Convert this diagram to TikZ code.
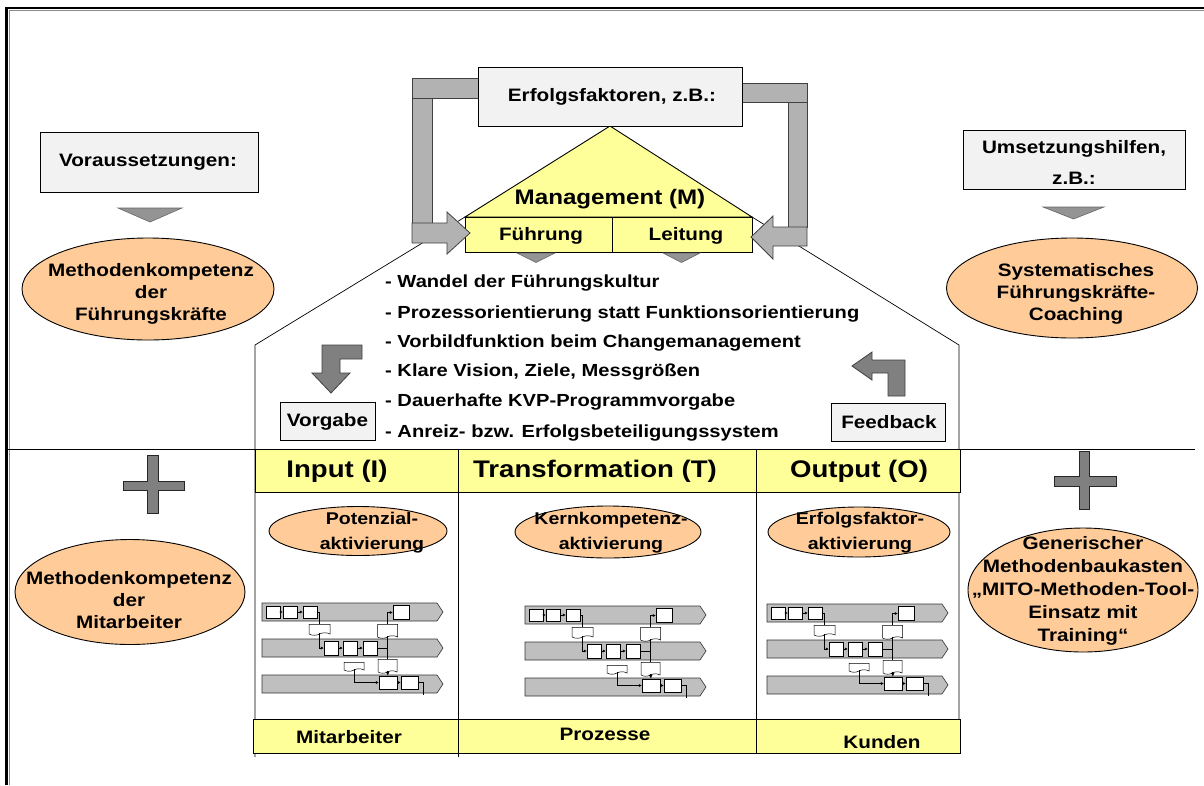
\documentclass[tikz,border=0pt]{standalone}
\usepackage{fontspec}
\setmainfont{Liberation Sans}[FakeStretch=1.15]
\usetikzlibrary{shapes.geometric,shapes.symbols,arrows.meta}

\definecolor{peach}{HTML}{FFCC99}
\definecolor{paleyellow}{HTML}{FFFF99}
\definecolor{boxgray}{HTML}{F2F2F2}
\definecolor{loopgray}{HTML}{B2B2B2}
\definecolor{arrowgray}{HTML}{808080}
\definecolor{lanegray}{HTML}{BFBFBF}

\tikzset{
  lbl/.style={font=\bfseries\fontsize{18}{22}\selectfont, inner sep=0, align=center},
  bullet/.style={font=\bfseries\fontsize{17.5}{21}\selectfont, inner sep=0, anchor=base west},
  graybox/.style={draw=black, fill=boxgray, line width=0.9pt, inner sep=0},
  ycell/.style={draw=black, fill=paleyellow, line width=0.9pt, inner sep=0},
  oval/.style={ellipse, draw=black, fill=peach, line width=0.9pt, inner sep=0},
  loopbar/.style={draw=black!75, fill=loopgray, line width=0.8pt},
  darkarrow/.style={draw=black!75, fill=arrowgray, line width=0.8pt},
  pointer/.style={draw=black!60, fill=black!42, line width=0.6pt},
  plusbar/.style={draw=black!85, fill=arrowgray, line width=0.9pt},
  wall/.style={draw=black, line width=0.7pt},
  lane/.style={draw=black!80, fill=lanegray, line width=0.6pt},
  pbox/.style={draw=black, fill=white, line width=0.5pt, inner sep=0,
    minimum width=14pt, minimum height=12pt},
  pdoc/.style={tape, tape bend top=none, tape bend height=2.5pt, draw=black,
    fill=white, line width=0.5pt, inner sep=0},
  flow/.style={draw=black, line width=0.5pt},
  flowto/.style={flow, -{Latex[length=3pt,width=3pt]}},
}

% small swimlane process map, #1 = top left corner, #2 = name prefix
\newcommand\procmap[2]{%
\begin{scope}[shift={#1}, name prefix=#2-]
  \foreach \dy in {0,36,72}
    \draw[lane] (0,\dy) -- (175,\dy) -- (181,\dy+9) -- (175,\dy+18) -- (0,\dy+18) -- cycle;
  \node[pbox] (a1) at (11,9) {};
  \node[pbox] (a2) at (28,9) {};
  \node[pbox] (a3) at (48,9) {};
  \node[pbox, minimum width=16pt, minimum height=14pt] (a4) at (139,9.5) {};
  \node[pdoc, minimum width=21pt, minimum height=11pt] (d1) at (57.5,25.5) {};
  \node[pdoc, minimum width=20pt, minimum height=14pt] (d2) at (125.5,27) {};
  \node[pbox, minimum height=14pt] (b1) at (69,45) {};
  \node[pbox, minimum height=14pt] (b2) at (88,45) {};
  \node[pbox, minimum height=14pt] (b3) at (108,45) {};
  \node[pdoc, minimum width=20pt, minimum height=9pt] (d3) at (92,62.5) {};
  \node[pdoc, minimum width=19pt, minimum height=14pt] (d4) at (125.5,62) {};
  \node[pbox, minimum width=18pt, minimum height=13pt] (c1) at (126,79.5) {};
  \node[pbox, minimum width=17pt, minimum height=13pt] (c2) at (147.5,79.5) {};
  \coordinate (cend) at (161,92);
  \draw[flowto] (a1) -- (a2);
  \draw[flowto] (a2) -- (a3);
  \draw[flowto] (b1) -- (b2);
  \draw[flowto] (b2) -- (b3);
  \draw[flowto] (c1) -- (c2);
  \draw[flow] (a3.east) -| (d1.north);
  \draw[flowto] (d1.south) |- (b1.west);
  \draw[flow] (b3.east) -| (d2.south);
  \draw[flowto] (d2.north) |- (a4.west);
  \draw[flow] (d2.south) -- (d4.north);
  \draw[flow, line width=1.1pt, -{Latex[length=4pt,width=4pt]}] (d4.south) -- (c1.north);
  \draw[flowto] (d3.south) |- (c1.west);
  \draw[flow] (c2.east) -| (cend);
\end{scope}}

\begin{document}
\begin{tikzpicture}[x=1pt,y=-1pt]
\useasboundingbox (0,0) rectangle (1204,785);
\fill[white] (0,0) rectangle (1204,785);

% outer frame and horizontal divider
\draw[black!45, line width=1.6pt] (9.5,785) -- (9.5,10.5) -- (1204,10.5);
\draw[black, line width=2.6pt] (6.5,785) -- (6.5,8) -- (1204,8);
\draw[black, line width=0.8pt] (8,449) -- (1195,449);

% house outline
\draw[wall] (465,217) -- (255,345) -- (255,757);
\draw[wall] (752,217) -- (959,345) -- (959,753);
\draw[wall] (458.5,449) -- (458.5,757);
\draw[wall] (756.5,449) -- (756.5,753);

% management roof
\draw[draw=black, fill=paleyellow, line width=0.9pt] (610,126) -- (752,217) -- (465,217) -- cycle;
\node[lbl, font=\bfseries\fontsize{21}{24}\selectfont] (mgmt) at (610,199) {Management (M)};
\node[ycell, minimum width=147pt, minimum height=35pt] (fu) at (538.5,234.5) {};
\node[ycell, minimum width=140pt, minimum height=35pt] (le) at (682,234.5) {};
\node[lbl] (fut) at (541,236) {Führung};
\node[lbl] (let) at (686,236) {Leitung};
\draw[pointer] (517,253) -- (555,253) -- (536,262.5) -- cycle;
\draw[pointer] (663,253) -- (700,253) -- (681.5,262.5) -- cycle;

% feedback loops from the success factors into the management box
\draw[loopbar] (412,78) rectangle (478,98);
\draw[loopbar] (412,98) rectangle (432,223);
\draw[loopbar] (412,223) -- (447,223) -- (447,212) -- (470,233) -- (447,254) -- (447,243) -- (412,243) -- cycle;
\draw[loopbar] (742,83) rectangle (807,102);
\draw[loopbar] (788,102) rectangle (807,227);
\draw[loopbar] (807,227) -- (773,227) -- (773,216) -- (751,237) -- (773,259) -- (773,246) -- (807,246) -- cycle;

\node[graybox, minimum width=264pt, minimum height=59pt] (ef) at (610,96.5) {};
\node[lbl] (eft) at (612,97) {Erfolgsfaktoren, z.B.:};

% success factor list
\node[bullet] (f1) at (385,287) {- Wandel der Führungskultur};
\node[bullet] (f2) at (385,318) {- Prozessorientierung statt Funktionsorientierung};
\node[bullet] (f3) at (385,347) {- Vorbildfunktion beim Changemanagement};
\node[bullet] (f4) at (385,376) {- Klare Vision, Ziele, Messgrößen};
\node[bullet] (f5) at (385,406) {- Dauerhafte KVP-Programmvorgabe};
\node[bullet] (f6) at (385,437) {- Anreiz- bzw. Erfolgsbeteiligungssystem};

% Vorgabe / Feedback
\draw[darkarrow] (362,345) -- (322,345) -- (322,373) -- (312,373) -- (331,393) -- (350,373) -- (340,373) -- (340,359) -- (362,359) -- cycle;
\draw[darkarrow] (905,396) -- (905,360) -- (872,360) -- (872,352) -- (852,366) -- (872,380) -- (872,373) -- (888,373) -- (888,396) -- cycle;
\node[graybox, minimum width=95pt, minimum height=38pt] (vg) at (327.5,421.5) {};
\node[lbl] (vgt) at (327.5,422) {Vorgabe};
\node[graybox, minimum width=114pt, minimum height=38pt] (fb) at (888.5,422) {};
\node[lbl] (fbt) at (889,422.5) {Feedback};

% left side: prerequisites
\node[graybox, minimum width=218pt, minimum height=60pt] (vs) at (149,162) {};
\node[lbl] (vst) at (148,162) {Voraussetzungen:};
\draw[pointer] (118,208) -- (182,208) -- (150,222) -- cycle;
\node[oval, minimum width=252pt, minimum height=102pt] (mf) at (148,289) {};
\node[lbl] (mft) at (151,294) {Methodenkompetenz\\der\\Führungskräfte};

% right side: implementation aids
\node[graybox, minimum width=222pt, minimum height=59pt] (uh) at (1074,159.5) {};
\node[lbl, font=\bfseries\fontsize{18}{31}\selectfont] (uht) at (1074,162) {Umsetzungshilfen,\\z.B.:};
\draw[pointer] (1043,207) -- (1104,207) -- (1073.5,219) -- cycle;
\node[oval, minimum width=251pt, minimum height=100pt] (sc) at (1072,288) {};
\node[lbl] (sct) at (1076,294) {Systematisches\\Führungskräfte-\\Coaching};

% plus signs
\draw[plusbar] (147,455) -- (158,455) -- (158,481) -- (184,481) -- (184,490) -- (158,490) -- (158,513) -- (147,513) -- (147,490) -- (123,490) -- (123,481) -- (147,481) -- cycle;
\draw[plusbar] (1079,451) -- (1089,451) -- (1089,476) -- (1116,476) -- (1116,486) -- (1089,486) -- (1089,509) -- (1079,509) -- (1079,486) -- (1054,486) -- (1054,476) -- (1079,476) -- cycle;

\node[oval, minimum width=230pt, minimum height=105pt] (mm) at (130,592) {};
\node[lbl] (mmt) at (129,600) {Methodenkompetenz\\der\\Mitarbeiter};
\node[oval, minimum width=230pt, minimum height=124pt] (mb) at (1083,590) {};
\node[lbl, font=\bfseries\fontsize{18}{23}\selectfont] (mbt) at (1083,591)
  {Generischer\\Methodenbaukasten\\„MITO-Methoden-Tool-\\Einsatz mit\\Training“};

% input / transformation / output header
\node[ycell, minimum width=203.5pt, minimum height=43pt] (hin) at (357,470.5) {};
\node[ycell, minimum width=298pt, minimum height=43pt] (htr) at (607.5,470.5) {};
\node[ycell, minimum width=203.5pt, minimum height=43pt] (hout) at (858.25,470.5) {};
\node[lbl, font=\bfseries\fontsize{24}{28}\selectfont] (hint) at (337,471) {Input (I)};
\node[lbl, font=\bfseries\fontsize{24}{28}\selectfont] (htrt) at (595,471) {Transformation (T)};
\node[lbl, font=\bfseries\fontsize{24}{28}\selectfont] (houtt) at (859,471) {Output (O)};

% activation ovals
\node[oval, minimum width=178pt, minimum height=49pt] (pa) at (358,531) {};
\node[lbl, font=\bfseries\fontsize{17}{25}\selectfont] (pat) at (372,533) {Potenzial-\\aktivierung};
\node[oval, minimum width=186pt, minimum height=52pt] (ka) at (608,532) {};
\node[lbl, font=\bfseries\fontsize{17}{25}\selectfont] (kat) at (611,533) {Kernkompetenz-\\aktivierung};
\node[oval, minimum width=182pt, minimum height=50pt] (ea) at (859,532) {};
\node[lbl, font=\bfseries\fontsize{17}{25}\selectfont] (eat) at (860,533) {Erfolgsfaktor-\\aktivierung};

% process maps
\procmap{(262,603)}{pl}
\procmap{(525,606)}{pm}
\procmap{(767,604)}{pr}

% bottom row
\node[ycell, minimum width=205pt, minimum height=34pt] (bmi) at (356,736) {};
\node[ycell, minimum width=298pt, minimum height=34pt] (bpr) at (607.5,736) {};
\node[ycell, minimum width=203.5pt, minimum height=34pt] (bku) at (858.25,736) {};
\node[lbl] (bmit) at (349,737) {Mitarbeiter};
\node[lbl] (bprt) at (605,734) {Prozesse};
\node[lbl] (bkut) at (882,742) {Kunden};
\end{tikzpicture}
\end{document}
